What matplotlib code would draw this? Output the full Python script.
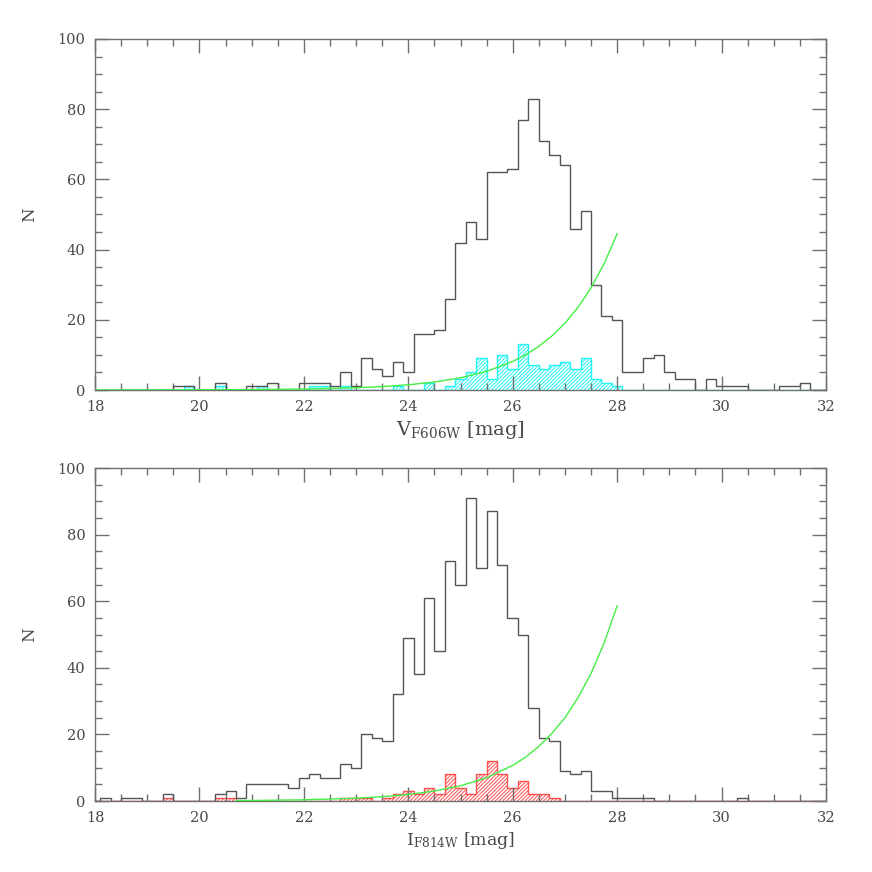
import numpy as np
import matplotlib
matplotlib.use("Agg")
import matplotlib.pyplot as plt
from matplotlib.ticker import MultipleLocator

plt.rcParams['font.family'] = ['DejaVu Serif']
plt.rcParams['mathtext.fontset'] = 'dejavuserif'
plt.rcParams['hatch.linewidth'] = 0.7

# 0.2 mag bins, centres 18.0 ... 32.0
bin_lo, bin_hi, bin_w = 17.9, 32.1, 0.2

# ---- top panel (F606W) ----
v_all = [0, 0, 0, 0, 0, 0, 0, 0, 1, 1,
         0, 0, 2, 0, 0, 1, 1, 2, 0, 0,
         2, 2, 2, 1, 5, 1, 9, 6, 4, 8,
         5, 16, 16, 17, 26, 42, 48, 43, 62, 62,
         63, 77, 83, 71, 67, 64, 46, 51, 30, 21,
         20, 5, 5, 9, 10, 5, 3, 3, 0, 3,
         1, 1, 1, 0, 0, 0, 1, 1, 2, 0,
         0]
v_sel = [0, 0, 0, 0, 0, 0, 0, 0, 0, 1,
         0, 0, 1, 0, 0, 0, 1, 0, 0, 0,
         0, 1, 1, 0, 1, 0, 0, 0, 0, 1,
         0, 0, 2, 0, 1, 3, 5, 9, 3, 10,
         6, 13, 7, 6, 7, 8, 6, 9, 3, 2,
         1, 0, 0, 0, 0, 0, 0, 0, 0, 0,
         0, 0, 0, 0, 0, 0, 0, 0, 0, 0,
         0]
v_curve_mag = [18, 19, 20, 21, 22, 23, 23.5, 24, 24.5, 25, 25.5, 26,
               26.25, 26.5, 26.75, 27, 27.25, 27.5, 27.75, 28]
v_curve_n = [0.01, 0.02, 0.05, 0.12, 0.27, 0.63, 0.97, 1.49, 2.27, 3.47, 5.31, 8.13,
             10.05, 12.43, 15.38, 19.02, 23.52, 29.09, 35.98, 44.5]

# ---- bottom panel (F814W) ----
i_all = [0, 1, 0, 1, 1, 0, 0, 2, 0, 0,
         0, 0, 2, 3, 1, 5, 5, 5, 5, 4,
         7, 8, 7, 7, 11, 10, 20, 19, 18, 32,
         49, 38, 61, 45, 72, 65, 91, 70, 87, 71,
         55, 50, 28, 19, 18, 9, 8, 9, 3, 3,
         1, 1, 1, 1, 0, 0, 0, 0, 0, 0,
         0, 0, 1, 0, 0, 0, 0, 0, 0, 0,
         0]
i_sel = [0, 0, 0, 0, 0, 0, 0, 1, 0, 0,
         0, 0, 1, 1, 0, 0, 0, 0, 0, 0,
         0, 0, 0, 0, 1, 1, 1, 0, 1, 2,
         3, 2, 4, 2, 8, 4, 2, 8, 12, 8,
         4, 6, 2, 2, 1, 0, 0, 0, 0, 0,
         0, 0, 0, 0, 0, 0, 0, 0, 0, 0,
         0, 0, 0, 0, 0, 0, 0, 0, 0, 0,
         0]
i_curve_mag = [20.7, 21, 22, 23, 23.5, 24, 24.5, 25, 25.5, 26,
               26.25, 26.5, 26.75, 27, 27.25, 27.5, 27.75, 28]
i_curve_n = [0.13, 0.15, 0.36, 0.84, 1.28, 1.96, 2.99, 4.57, 6.99, 10.7,
             13.2, 16.4, 20.3, 25.0, 31.0, 38.3, 47.4, 58.6]

edges = np.round(np.linspace(bin_lo, bin_hi, len(v_all) + 1), 2)

fig = plt.figure(figsize=(8.72, 8.72), dpi=100)
ax1 = fig.add_axes([95/872, 1 - 390/872, 731/872, 351/872])
ax2 = fig.add_axes([95/872, 1 - 801/872, 731/872, 333/872])

text_col = '#484848'
frame_col = '#707070'


def style(ax, xlabel, xl_size):
    ax.set_xlim(18, 32)
    ax.set_ylim(0, 100)
    ax.xaxis.set_major_locator(MultipleLocator(2))
    ax.xaxis.set_minor_locator(MultipleLocator(0.5))
    ax.yaxis.set_major_locator(MultipleLocator(20))
    ax.yaxis.set_minor_locator(MultipleLocator(5))
    ax.tick_params(which='both', direction='in', top=True, right=True,
                   colors=frame_col, labelcolor=text_col, width=1)
    ax.tick_params(which='major', length=10, labelsize=10.5, pad=7)
    ax.tick_params(which='minor', length=5)
    for s in ax.spines.values():
        s.set_color(frame_col)
        s.set_linewidth(1.0)
    ax.set_ylabel('N', fontsize=12, color=text_col, labelpad=14)
    ax.set_xlabel(xlabel, fontsize=xl_size, color=text_col, labelpad=4)


# top
ax1.stairs(v_sel, edges, fill=True, facecolor='none', edgecolor='#22f4f4',
           hatch='/////////', linewidth=1.0, zorder=1)
ax1.stairs(v_all, edges, color='#555555', linewidth=1.0, zorder=2)
ax1.plot(v_curve_mag, v_curve_n, color='#44ee44', linewidth=1.0, zorder=3)
style(ax1, r'V$_{\rm F606W}$ [mag]', 14)

# bottom
ax2.stairs(i_sel, edges, fill=True, facecolor='none', edgecolor='#ff5050',
           hatch='/////////', linewidth=1.0, zorder=1)
ax2.stairs(i_all, edges, color='#555555', linewidth=1.0, zorder=2)
ax2.plot(i_curve_mag, i_curve_n, color='#44ee44', linewidth=1.0, zorder=3)
style(ax2, r'I$_{\rm F814W}$ [mag]', 12.5)

fig.savefig('out.png', dpi=100, facecolor='white')
